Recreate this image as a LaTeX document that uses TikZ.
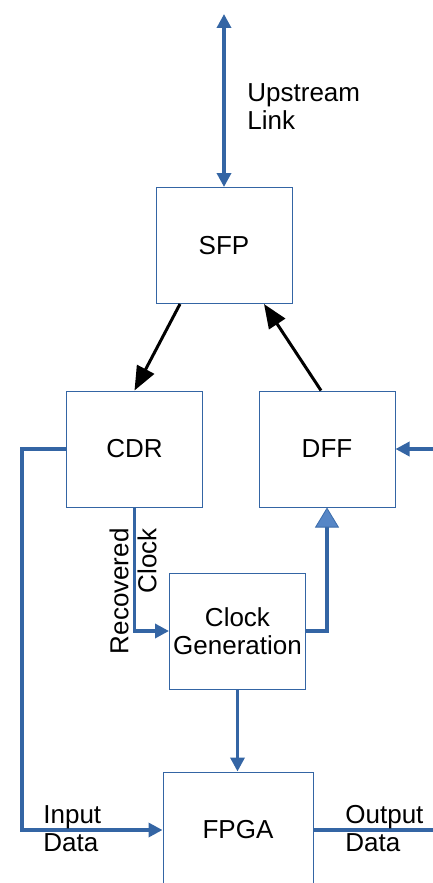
\documentclass[tikz,border=0pt]{standalone}
\usepackage{fontspec}
\setmainfont{Liberation Sans}
\usetikzlibrary{arrows.meta,calc}
\definecolor{wireblue}{HTML}{3465A4}
\definecolor{tipblue}{HTML}{5686C6}

\begin{document}
\begin{tikzpicture}[x=0.5pt,y=0.5pt,>={Triangle[length=7pt,width=7pt]},
    every node/.style={font=\fontsize{13}{14}\selectfont},
    block/.style={draw=wireblue,line width=0.5pt,minimum width=68pt,minimum height=58pt,inner xsep=1pt,align=center},
    wire/.style={wireblue,line width=1.7pt},
    feed/.style={black,line width=1.5pt,-{Triangle[length=12pt,width=9.5pt]}},
    lbl/.style={anchor=west,align=left,inner sep=0pt}]
  \useasboundingbox (0,0) rectangle (433,-883);
  \node[block] (sfp) at (224,-245.5) {SFP};
  \node[block] (cdr) at (134.5,-449) {CDR};
  \node[block] (dff) at (327,-449) {DFF};
  \node[block] (clkgen) at (237.5,-631) {Clock\\Generation};
  \node[block,minimum width=75pt] (fpga) at (238,-830) {FPGA};
  \coordinate (uptop) at (224,-14);
  \coordinate (inbend) at (22,-449);
  \coordinate (outend) at (440,-830);
  \coordinate (dffin) at (440,-449);
  % link to the upstream side
  \draw[wire,<->] (uptop) -- (sfp.north);
  \node[lbl] (uplbl) at (247,-107) {Upstream\\Link};
  % SFP <-> CDR / DFF
  \draw[feed] ([xshift=-22pt]sfp.south) -- (cdr.north);
  \draw[feed] ([xshift=-3pt]dff.north) -- ([xshift=20pt]sfp.south);
  % data and clock paths
  \draw[wire,->] (cdr.west) -- (inbend) |- (fpga.west);
  \node[lbl] (inlbl) at (43,-829) {Input\\Data};
  \draw[wire,->] (cdr.south) |- (clkgen.west);
  \node[rotate=90,anchor=east,align=right,inner sep=0pt] (rclbl) at (133,-528) {Recovered\\Clock};
  \draw[wire,-{Triangle[length=10pt,width=12pt,fill=tipblue,color=wireblue!80!tipblue,line width=0.4pt]}] (clkgen.east) -| (dff.south);
  \draw[wire,->] (clkgen.south) -- (clkgen.south |- fpga.north);
  \draw[wire] (fpga.east) -- (outend);
  \node[lbl] (outlbl) at (345,-829) {Output\\Data};
  \draw[wire,->] (dffin) -- (dff.east);
\end{tikzpicture}
\end{document}
